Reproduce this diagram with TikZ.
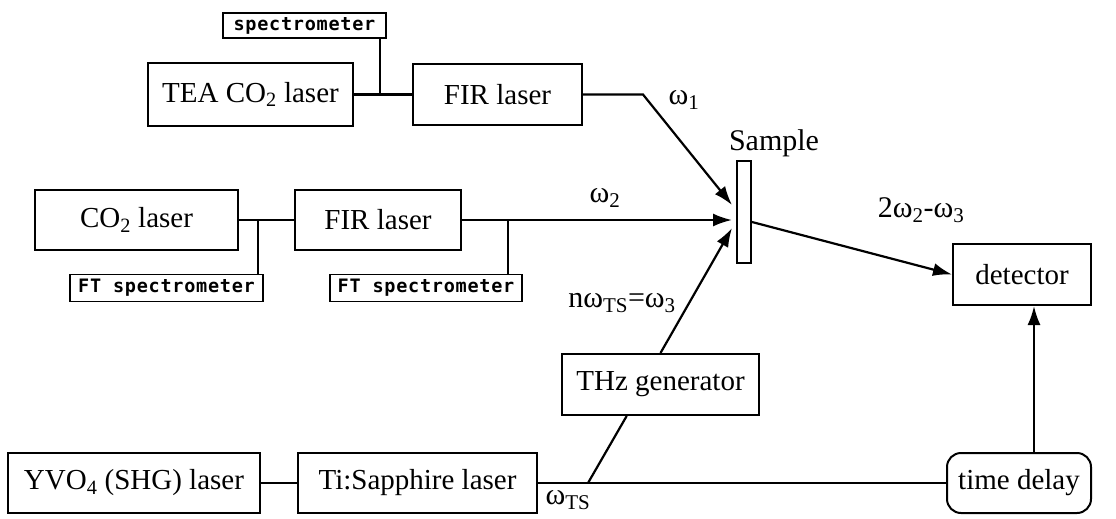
\documentclass[tikz,border=0pt]{standalone}
\usepackage{fontspec}
\setmainfont{Liberation Serif}
\newfontfamily\gothic[LetterSpace=4]{DejaVu Sans Mono}
\usetikzlibrary{arrows.meta,calc}

\tikzset{
  unit/.style={draw, line width=2pt, inner sep=0pt, font=\fontsize{29}{32}\selectfont},
  meter/.style={draw, line width=1.6pt, inner sep=0pt, font=\gothic\bfseries\fontsize{18.5}{20}\selectfont},
  beam/.style={line width=2.2pt},
  ray/.style={line width=2.2pt, -{Latex[length=19pt,width=13pt]}},
  tapline/.style={line width=1.1pt},
  lbl/.style={inner sep=0pt, font=\fontsize{30}{32}\selectfont},
}

\begin{document}
\begin{tikzpicture}[x=1pt,y=-1pt]
\useasboundingbox (0,0) rectangle (1116,519);

% upper chain: TEA CO2 pump and FIR laser
\node[meter, minimum width=163pt, minimum height=25pt] (spec) at (304.5,25.5) {spectrometer};
\node[unit, minimum width=205pt, minimum height=62pt] (tea) at (250.5,94.5) {TEA CO\textsubscript{2} laser};
\node[unit, minimum width=169pt, minimum height=60pt] (fir1) at (497.5,94.5) {FIR laser};

% middle chain: CW CO2 pump and FIR laser
\node[unit, minimum width=203pt, minimum height=60pt] (co2) at (136.5,220) {CO\textsubscript{2} laser};
\node[unit, minimum width=166pt, minimum height=60pt] (fir2) at (378,220) {FIR laser};
\node[meter, minimum width=193pt, minimum height=27pt] (ft1) at (166.5,288) {FT spectrometer};
\node[meter, minimum width=192pt, minimum height=27pt] (ft2) at (426,288) {FT spectrometer};

% sample and detection
\node[draw, line width=2pt, minimum width=14pt, minimum height=102pt, inner sep=0pt] (sample) at (744,212) {};
\node[lbl] (samplelbl) at (774,143) {Sample};
\node[unit, minimum width=138pt, minimum height=61pt] (det) at (1022,274.5) {detector};

% lower chain: pump, Ti:Sapphire, THz source, delay line
\node[unit, minimum width=197pt, minimum height=61pt] (thz) at (660.5,384.5) {THz generator};
\node[unit, minimum width=252pt, minimum height=60pt] (yvo) at (134,483) {YVO\textsubscript{4} (SHG) laser};
\node[unit, minimum width=239pt, minimum height=60pt] (tis) at (417.5,483) {Ti:Sapphire laser};
\node[unit, rounded corners=14pt, minimum width=144pt, minimum height=60pt] (delay) at (1019,483) {time delay};

% junctions and beam end points
\coordinate (j1) at (380,94.5);
\coordinate (j2) at (258,220);
\coordinate (j3) at (508,220);
\coordinate (bend1) at (643,94.5);
\coordinate (tip1) at ($(sample.west)+(-4,-7)$);
\coordinate (tip2) at ($(sample.west)+(-4,8)$);
\coordinate (tip3) at ($(sample.west)+(-4,16)$);
\coordinate (tapts) at (588,483);
\coordinate (up) at (1034,0);

% spectrometer taps
\draw[tapline] (j1) -- (j1 |- spec.south);
\draw[tapline] (j2) -- (j2 |- ft1.north);
\draw[tapline] (j3) -- (j3 |- ft2.north);

% beams
\draw[beam] (tea.east) -- (fir1.west);
\draw[ray] (fir1.east) -- (bend1) -- (tip1);
\draw[beam] (co2.east) -- (fir2.west);
\draw[ray] (fir2.east) -- (tip2);
\draw[beam] (yvo.east) -- (tis.west);
\draw[beam] (tis.east) -- (delay.west);
\draw[beam] (tapts) -- ($(thz.south west)!0.33!(thz.south east)$);
\draw[ray] (thz.north) -- (tip3);
\draw[ray] ($(sample.east)+(0,10)$) -- (det.west);
\draw[ray] (delay.north -| up) -- (det.south -| up);

% frequency labels
\node[lbl] (w1) at (684,100) {ω\textsubscript{1}};
\node[lbl] (w2) at (605,198) {ω\textsubscript{2}};
\node[lbl] (wout) at (921,210) {2ω\textsubscript{2}-ω\textsubscript{3}};
\node[lbl] (w3) at (622,303) {nω\textsubscript{TS}=ω\textsubscript{3}};
\node[lbl] (wts) at (568,500) {ω\textsubscript{TS}};
\end{tikzpicture}
\end{document}
